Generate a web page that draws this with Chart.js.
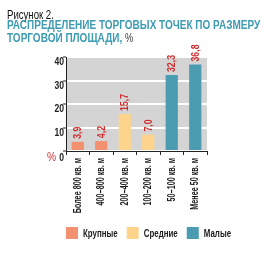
<!DOCTYPE html>
<html><head><meta charset="utf-8">
<script src="https://cdn.jsdelivr.net/npm/chart.js@4"></script>
<style>
html,body{margin:0;padding:0;background:#fff;width:270px;height:259px;overflow:hidden;}
#wrap{position:relative;width:270px;height:259px;}
canvas{position:absolute;left:0;top:0;}
.t{position:absolute;left:7px;white-space:nowrap;font-family:"Liberation Sans",Arial,sans-serif;transform-origin:0 0;}
#t0{top:8px;font-size:12px;color:#111;transform:scaleX(0.8);}
#t1{top:19px;font-size:13px;font-weight:bold;color:#3C9BB2;line-height:12.5px;transform:scaleX(0.77);}
#t1 span{color:#333;font-weight:normal;font-size:12px;}
</style></head>
<body><div id="wrap">
<canvas id="c" width="270" height="259"></canvas>
<div class="t" id="t0">Рисунок 2.</div>
<div class="t" id="t1">РАСПРЕДЕЛЕНИЕ ТОРГОВЫХ ТОЧЕК ПО РАЗМЕРУ<br>ТОРГОВОЙ ПЛОЩАДИ, <span>%</span></div>
</div>
<script>
const categories = ["Более 800 кв. м","400–800 кв. м","200–400 кв. м","100–200 кв. м","50–100 кв. м","Менее 50 кв. м"];
const values = [3.9, 4.2, 15.7, 7.0, 32.3, 36.8];
const groupOf = [0, 0, 1, 1, 2, 2];
const groupNames = ["Крупные","Средние","Малые"];
const groupColors = ["#F3906F","#FDD48C","#4B9CB0"];
const yTicks = [0,10,20,30,40];

const FONT = '"Liberation Sans",Arial,sans-serif';

function txt(ctx, s, x, y, rot, sx){
  ctx.save();
  ctx.translate(x, y);
  if (rot) ctx.rotate(rot);
  ctx.scale(sx, 1);
  ctx.fillText(s, 0, 0);
  ctx.restore();
}

const deco = {
  id:'deco',
  beforeDraw(chart){
    const {ctx, chartArea:a} = chart;
    ctx.save(); ctx.fillStyle='#D4D4D4';
    ctx.fillRect(a.left, a.top, a.right-a.left, a.bottom-a.top);
    ctx.restore();
  },
  afterDraw(chart){
    const {ctx} = chart;
    const xs = chart.scales.x, ys = chart.scales.y;
    const meta = chart.getDatasetMeta(0);
    ctx.save();
    // value labels
    ctx.fillStyle='#D02B2B';
    ctx.font='bold 11px '+FONT;
    ctx.textAlign='left'; ctx.textBaseline='middle';
    meta.data.forEach((bar,i)=>{
      txt(ctx, values[i].toFixed(1).replace('.',','), bar.x+0.5, bar.y-3, -Math.PI/2, 0.8);
    });
    // y tick labels
    ctx.fillStyle='#222';
    ctx.font='bold 11px '+FONT;
    ctx.textAlign='right'; ctx.textBaseline='middle';
    yTicks.forEach(v=>{
      txt(ctx, String(v), ys.right-2, ys.getPixelForValue(v)+(v===0?7:5), 0, 0.78);
    });
    // % sign
    ctx.fillStyle='#D02B2B';
    ctx.font='12px '+FONT;
    txt(ctx, '%', ys.right-10, ys.getPixelForValue(0)+7, 0, 0.85);
    // x category labels
    ctx.fillStyle='#1a1a1a';
    ctx.font='bold 10px '+FONT;
    ctx.textAlign='right'; ctx.textBaseline='middle';
    categories.forEach((c,i)=>{
      txt(ctx, c, xs.getPixelForValue(i), xs.top+7, -Math.PI/2, 0.72);
    });
    // legend
    ctx.font='bold 11px '+FONT;
    ctx.textAlign='left'; ctx.textBaseline='middle';
    let lx = 66; const ly = 233;
    groupNames.forEach((n,i)=>{
      ctx.fillStyle = groupColors[i];
      ctx.fillRect(lx, ly-6, 12, 12);
      ctx.fillStyle = '#1a1a1a';
      txt(ctx, n, lx+17, ly+1, 0, 0.72);
      lx += 17 + ctx.measureText(n).width*0.72 + 9;
    });
    ctx.restore();
  }
};

new Chart(document.getElementById('c'), {
  type:'bar',
  data:{
    labels:categories,
    datasets:[{
      data:values,
      backgroundColor:values.map((v,i)=>groupColors[groupOf[i]]),
      barPercentage:0.52,
      categoryPercentage:1.0
    }]
  },
  options:{
    responsive:false, animation:false,
    layout:{padding:{top:57,left:40,right:63,bottom:46}},
    plugins:{ tooltip:{enabled:false}, legend:{display:false} },
    scales:{
      x:{
        grid:{drawOnChartArea:false, color:'#222', tickLength:4, offset:true},
        border:{color:'#222', width:1},
        ticks:{display:false},
        afterFit(s){ s.height = 62; }
      },
      y:{
        min:0, max:40,
        afterBuildTicks(s){ s.ticks = yTicks.map(v=>({value:v})); },
        grid:{color:'#fff', lineWidth:2, drawTicks:true, tickLength:3, tickColor:'#222', tickWidth:1},
        border:{color:'#222', width:1},
        ticks:{display:false},
        afterFit(s){ s.width = 26; }
      }
    }
  },
  plugins:[deco]
});
</script>
</body></html>
